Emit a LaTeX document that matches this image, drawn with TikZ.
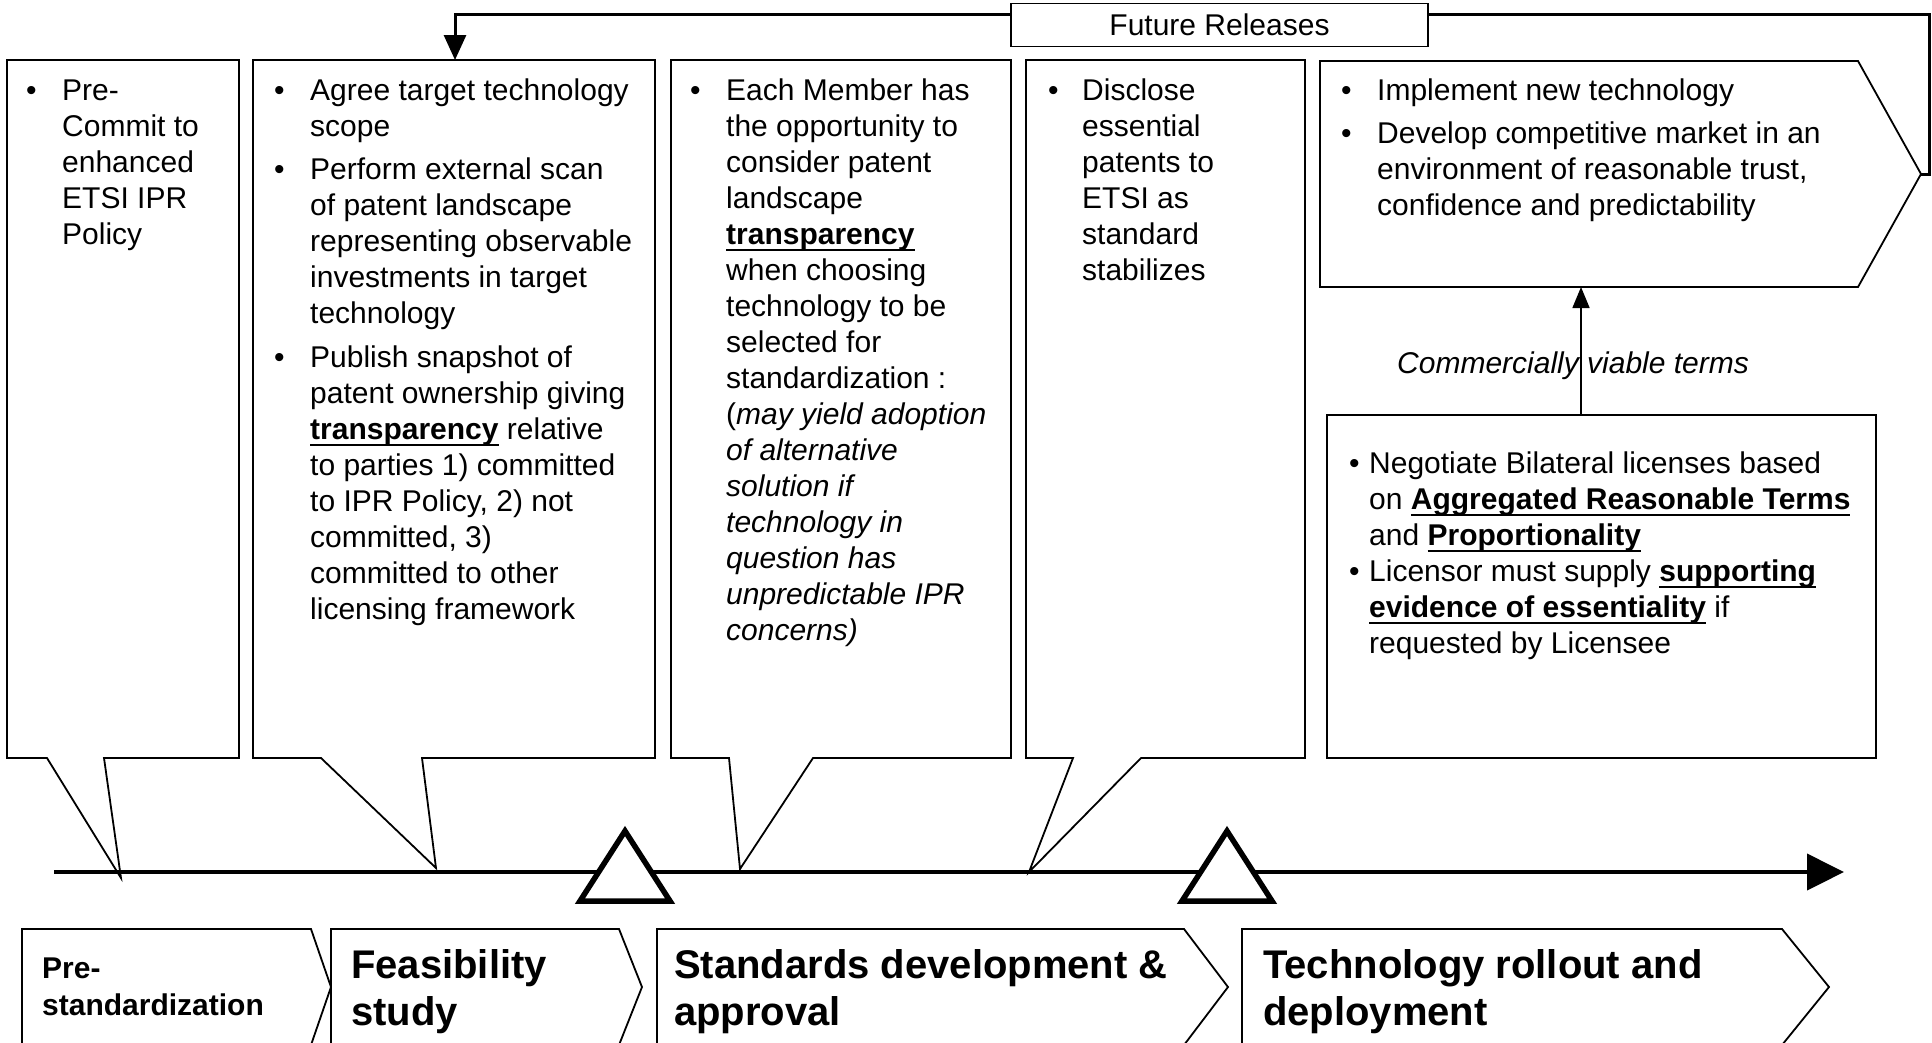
\documentclass[tikz,border=0pt]{standalone}
\usepackage{fontspec}
\setmainfont{Liberation Sans}
\usetikzlibrary{arrows.meta}

% bullet paragraph with hanging indent
\newcommand{\bitem}[1]{\par\noindent\hangindent=#1\hangafter=1\makebox[#1][l]{\textbullet}\ignorespaces}
% bold underlined phrase
\newsavebox{\ulbox}
\newcommand{\ubf}[1]{\leavevmode\sbox{\ulbox}{\textbf{#1}}\rlap{\rule[-6.5pt]{\wd\ulbox}{1.8pt}}\usebox{\ulbox}}
% text block: lines are broken by hand with \\
\newcommand{\txtblock}[2]{\begin{minipage}[t]{620pt}\setlength{\parindent}{0pt}\setlength{\parskip}{#1}#2\end{minipage}}

\tikzset{
  frame/.style={draw=black, line width=1.8pt, fill=white, line join=miter},
  bodytext/.style={anchor=base west, inner sep=0pt, font=\fontsize{30}{36}\selectfont},
  phase/.style={anchor=base west, inner sep=0pt, font=\bfseries\fontsize{40}{47}\selectfont},
  smallphase/.style={anchor=base west, inner sep=0pt, font=\bfseries\fontsize{30}{37}\selectfont},
  milestone/.style={draw=black, line width=5.5pt, fill=white, line join=miter},
}

\begin{document}
\begin{tikzpicture}[x=1pt,y=-1pt]
\useasboundingbox (0,0) rectangle (1932,1042);
\fill[white] (0,0) rectangle (1932,1042);

% ---------- callout boxes above the timeline ----------
\draw[frame] (7,60) -- (239,60) -- (239,758) -- (104,758) -- (121,878) -- (47,758) -- (7,758) -- cycle;
\draw[frame] (253,60) -- (655,60) -- (655,758) -- (422,758) -- (436,868) -- (321,758) -- (253,758) -- cycle;
\draw[frame] (671,60) -- (1011,60) -- (1011,758) -- (813,758) -- (740,869) -- (729,758) -- (671,758) -- cycle;
\draw[frame] (1026,60) -- (1305,60) -- (1305,758) -- (1141,758) -- (1029,872) -- (1073,758) -- (1026,758) -- cycle;
\draw[frame] (1320,61) -- (1858,61) -- (1921,174) -- (1858,287) -- (1320,287) -- cycle;
\draw[frame] (1327,415) rectangle (1876,758);

\coordinate (b2top) at (455,60);
\coordinate (b5tip) at (1921,174);
\coordinate (b5bot) at (1581,287);
\coordinate (licTop) at (1581,415);

\node[bodytext] (pre) at (26,100) {\txtblock{0pt}{%
\bitem{36pt}Pre-\\Commit to\\enhanced\\ETSI IPR\\Policy}};

\node[bodytext] (feas) at (274,100) {\txtblock{7.5pt}{%
\bitem{36pt}Agree target technology\\scope\par
\bitem{36pt}Perform external scan\\of patent landscape\\representing observable\\investments in target\\technology\par
\bitem{36pt}Publish snapshot of\\patent ownership giving\\\ubf{transparency} relative\\to parties 1) committed\\to IPR Policy, 2) not\\committed, 3)\\committed to other\\licensing framework}};

\node[bodytext] (dev) at (690,100) {\txtblock{0pt}{%
\bitem{36pt}Each Member has\\the opportunity to\\consider patent\\landscape\\\ubf{transparency}\\when choosing\\technology to be\\selected for\\standardization :\\(\textit{may yield adoption}\\\textit{of alternative}\\\textit{solution if}\\\textit{technology in}\\\textit{question has}\\\textit{unpredictable IPR}\\\textit{concerns)}}};

\node[bodytext] (disc) at (1048,100) {\txtblock{0pt}{%
\bitem{34pt}Disclose\\essential\\patents to\\ETSI as\\standard\\stabilizes}};

\node[bodytext] (impl) at (1341,100) {\txtblock{7pt}{%
\bitem{36pt}Implement new technology\par
\bitem{36pt}Develop competitive market in an\\environment of reasonable trust,\\confidence and predictability}};

\node[bodytext] (lic) at (1349,473) {\txtblock{0pt}{%
\bitem{20pt}Negotiate Bilateral licenses based\\on \ubf{Aggregated Reasonable Terms}\\and \ubf{Proportionality}\par
\bitem{20pt}Licensor must supply \ubf{supporting}\\\ubf{evidence of essentiality} if\\requested by Licensee}};

% ---------- licensing terms feed the rollout ----------
\draw[line width=1.6pt, -{Triangle[length=21pt,width=17pt]}] (licTop) -- (b5bot);
\node[anchor=base west, inner sep=0pt, font=\itshape\fontsize{30}{36}\selectfont] (terms) at (1397,373) {Commercially viable terms};

% ---------- future releases loop ----------
\draw[line width=3pt, line join=miter, -{Triangle[length=25pt,width=22pt]}]
  (b5tip) -- (1929,174) |- (455,14) -- (b2top);
\node[draw=black, line width=1.8pt, fill=white, minimum width=417pt, minimum height=43pt, inner sep=0pt,
      font=\fontsize{30}{36}\selectfont] (future) at (1219.5,25) {Future Releases};

% ---------- timeline ----------
\coordinate (tl0) at (54,872);
\coordinate (tl1) at (1844,872);
\draw[line width=4pt, -{Triangle[length=37pt,width=36pt]}] (tl0) -- (tl1);
\draw[milestone] (625,831) -- (670,901) -- (580,901) -- cycle;
\draw[milestone] (1227,831) -- (1272,901) -- (1182,901) -- cycle;

% ---------- phase chevrons ----------
\draw[frame] (22,929) -- (311,929) -- (331,987) -- (311,1045) -- (22,1045) -- cycle;
\draw[frame] (331,929) -- (619,929) -- (642,987) -- (619,1045) -- (331,1045) -- cycle;
\draw[frame] (657,929) -- (1184,929) -- (1228,987) -- (1184,1045) -- (657,1045) -- cycle;
\draw[frame] (1242,929) -- (1782,929) -- (1829,987) -- (1782,1045) -- (1242,1045) -- cycle;

\node[smallphase] (ph1) at (42,978) {\txtblock{0pt}{Pre-\\standardization}};
\node[phase] (ph2) at (351,978) {\txtblock{0pt}{Feasibility\\study}};
\node[phase] (ph3) at (674,978) {\txtblock{0pt}{Standards development \&\\approval}};
\node[phase] (ph4) at (1263,978) {\txtblock{0pt}{Technology rollout and\\deployment}};
\end{tikzpicture}
\end{document}
